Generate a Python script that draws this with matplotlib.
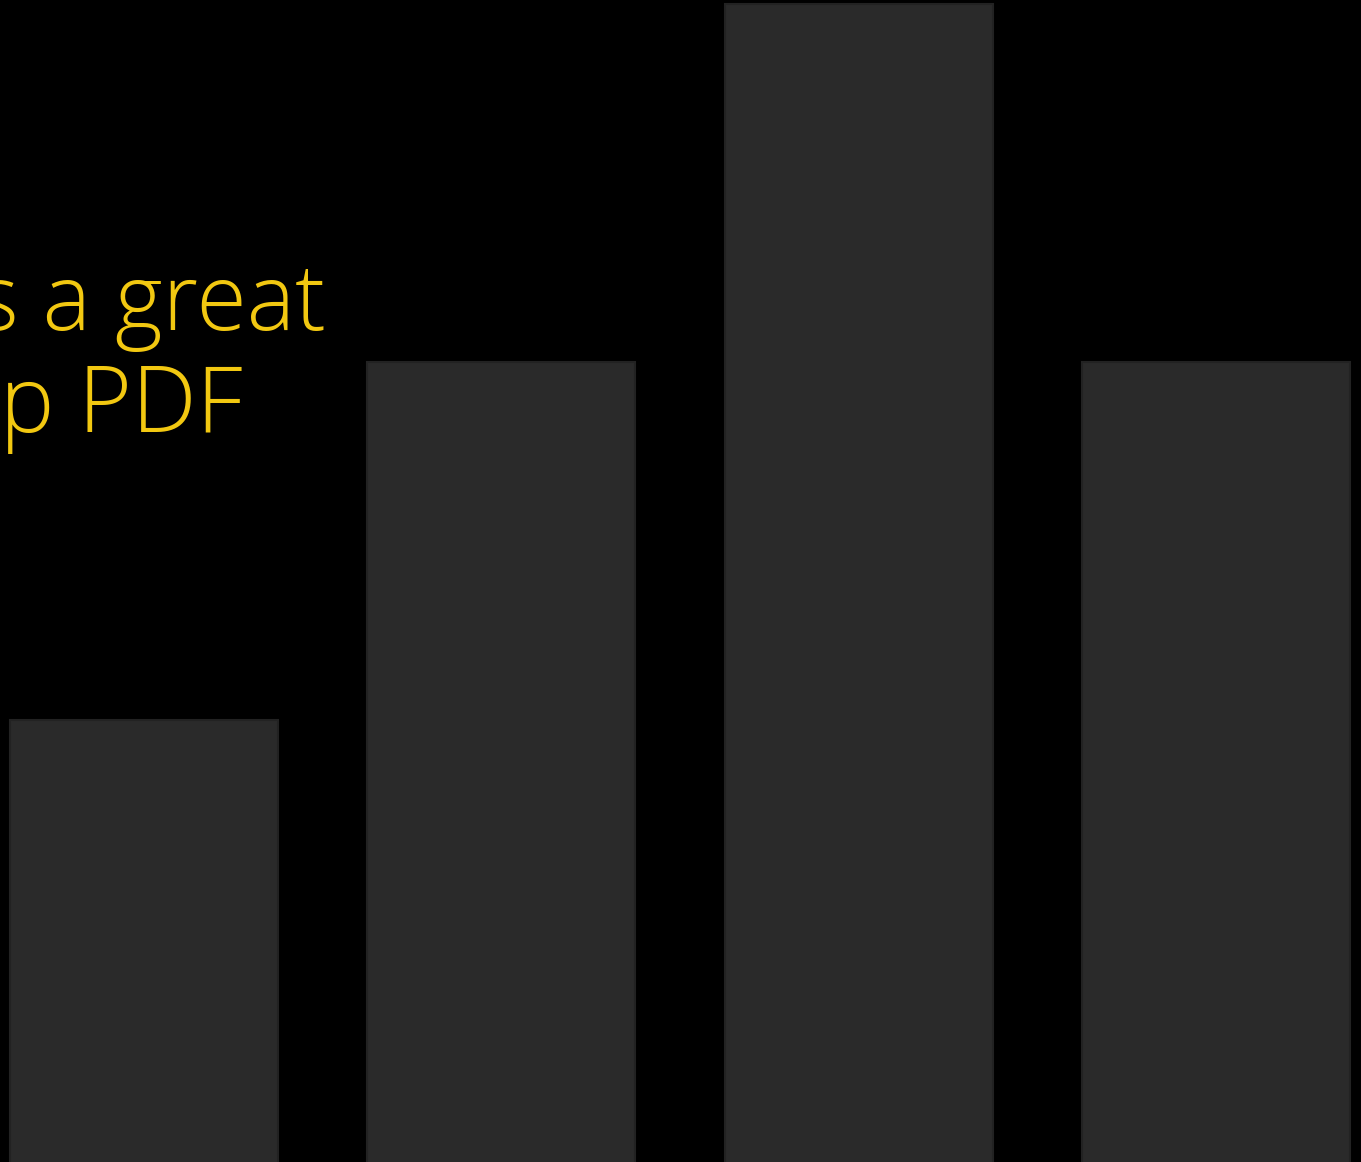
import matplotlib.pyplot as plt

# bar heights (bars run off the bottom and top of the canvas)
categories = ['A', 'B', 'C', 'D']
values = [5, 9, 13, 9]
title_lines = ['s a great', 'up PDF']

bar_color = '#2a2a2a'
edge_color = '#222222'
text_color = '#f2c811'

fig = plt.figure(figsize=(13.61, 11.62), dpi=100, facecolor='black')
ax = fig.add_axes([0, 0, 1, 1])
ax.set_facecolor('black')

x = range(len(categories))
ax.bar(x, values, width=0.75, color=bar_color, edgecolor=edge_color, linewidth=1.5)
ax.set_xlim(-0.403, 3.406)
ax.set_ylim(0.06, 13.045)
ax.axis('off')

# headline text, clipped at the left edge like the original
fig.text(326 / 1361, 1 - 330 / 1162, title_lines[0], ha='right', va='baseline',
         color=text_color, fontsize=66, family='Open Sans', weight='light')
fig.text(243 / 1361, 1 - 432 / 1162, title_lines[1], ha='right', va='baseline',
         color=text_color, fontsize=66, family='Open Sans', weight='light')

fig.savefig('out.png', dpi=100, facecolor='black')
